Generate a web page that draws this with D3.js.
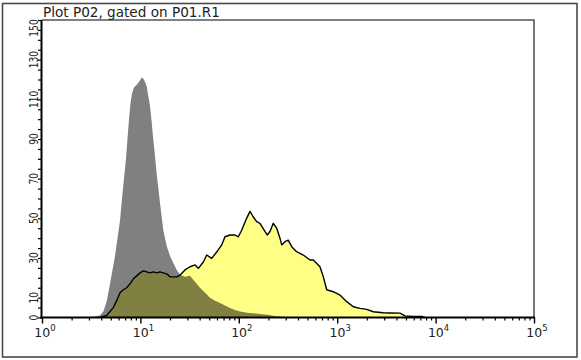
<!DOCTYPE html>
<html><head><meta charset="utf-8">
<script src="https://cdn.jsdelivr.net/npm/d3@7"></script>
<style>
body{margin:0;background:#fff;}
svg{display:block;}
</style></head>
<body>
<script>
// ---- data ----
const titleText = "Plot P02, gated on P01.R1";
const xDomain = [1, 1e5];
const yDomain = [0, 150];
const xTickDecades = [1, 10, 100, 1000, 10000, 100000];
const xTickExponents = ["0", "1", "2", "3", "4", "5"];
const yTickLabels = [0, 10, 30, 50, 70, 90, 110, 130, 150];

// control (gray) histogram: intensity, count
const grayX = [2.73, 3.46, 3.88, 4.20, 4.54, 4.91, 5.52, 6.21, 6.50, 6.81, 7.14, 7.39, 7.66, 7.93, 8.22, 8.61, 9.23, 9.91, 10.3, 10.7, 11.1, 11.6, 12.0, 12.5, 13.0, 13.5, 14.1, 14.6, 15.8, 17.1, 18.5, 20.0, 21.6, 23.4, 25.3, 28.4, 31.9, 34.5, 37.3, 40.3, 45.4, 51.0, 57.3, 64.4, 72.4, 81.4, 91.5, 103, 121, 139, 164, 194, 233, 295, 372];
const grayY = [0, 0.5, 1, 3, 8, 17, 31, 49, 60, 70, 80, 90, 100, 108, 113, 116, 117.5, 119.5, 121, 120.5, 119, 116.5, 112, 107, 99, 90, 81, 73, 58, 44, 36, 31, 27.5, 24, 21.5, 20.5, 21, 19, 17, 15, 12.5, 10, 8.5, 7.3, 6, 4.8, 3.8, 3, 2.4, 2.2, 1.8, 1.4, 0.8, 0.3, 0];

// stained (yellow) histogram: intensity, count
const yellowX = [3.88, 4.54, 4.91, 5.30, 5.74, 6.21, 6.70, 7.26, 7.84, 8.47, 9.17, 9.91, 10.7, 11.6, 12.5, 13.5, 14.6, 15.8, 17.1, 18.5, 20.0, 21.6, 23.4, 25.3, 28.4, 31.9, 35.9, 38.8, 43.6, 47.2, 53.0, 59.6, 67.0, 72.4, 81.4, 91.5, 98.9, 107, 120, 130, 140, 152, 164, 185, 195, 208, 224, 243, 262, 273, 295, 318, 345, 387, 452, 529, 572, 668, 722, 782, 912, 1067, 1250, 1459, 1706, 1995, 2328, 2944, 3443, 4348, 4887, 5888, 7228, 7800];
const yellowY = [0, 1, 3, 5, 8.5, 12.5, 14, 15, 17, 19.5, 21, 22.5, 23.5, 23, 22.5, 23, 22.5, 23, 22.5, 22, 20.5, 20.5, 20.5, 21.4, 24, 25.6, 26.5, 24.8, 28, 31.5, 29.8, 33, 36.6, 40.7, 41.6, 41.6, 40.7, 44, 50, 53.5, 50.8, 48.3, 47.5, 43.3, 41.6, 43.5, 47.5, 45, 40, 36.6, 38.2, 39, 35.7, 33.2, 31.5, 29, 29, 25.6, 20.6, 14, 13, 11.3, 8, 5.4, 4.6, 4.1, 2.9, 2.4, 2.3, 2.2, 0.8, 0.5, 0.5, 0];

// ---- layout ----
const W = 581, H = 360;
const L = 42, R = 534, T = 20, B = 317.5;

const svg = d3.select("body").append("svg").attr("width", W).attr("height", H);

// outer border
svg.append("rect").attr("x", 2.5).attr("y", 3.5).attr("width", 574.5).attr("height", 353.5)
  .attr("fill", "none").attr("stroke", "#4a4a4a").attr("stroke-width", 1.6);

const x = d3.scaleLog().domain(xDomain).range([L, R]);
const y = d3.scaleLinear().domain(yDomain).range([B, T]);

svg.append("defs").append("clipPath").attr("id", "clip")
  .append("rect").attr("x", L).attr("y", T).attr("width", R - L).attr("height", B - T);

const g = svg.append("g").attr("clip-path", "url(#clip)");
const gray = d3.zip(grayX, grayY);
const yellow = d3.zip(yellowX, yellowY);

const area = d3.area().x(d => x(d[0])).y0(y(0)).y1(d => y(d[1]));
const line = d3.line().x(d => x(d[0])).y(d => y(d[1]));

g.append("path").datum(gray).attr("d", area).attr("fill", "#808080");
g.append("path").datum(yellow).attr("d", area).attr("fill", "#ffff85")
  .style("mix-blend-mode", "multiply");
g.append("path").datum(yellow).attr("d", line).attr("fill", "none")
  .attr("stroke", "#000").attr("stroke-width", 1.4).attr("stroke-linejoin", "round");

// frame top/right
svg.append("path").attr("d", `M${L},${T}H${R}V${B}`).attr("fill", "none")
  .attr("stroke", "#555").attr("stroke-width", 1.6);

// ---- y axis ----
const yMinor = d3.range(yDomain[0], yDomain[1] + 1, 5);
const yAx = svg.append("g").attr("transform", `translate(${L},0)`)
  .call(d3.axisLeft(y).tickValues(yMinor).tickSize(4).tickFormat(""));
yAx.select(".domain").remove();
yAx.selectAll(".tick line").attr("stroke", "#000").attr("stroke-width", 1.2);
svg.append("line").attr("x1", L - 0.5).attr("x2", L - 0.5).attr("y1", T).attr("y2", B + 1)
  .attr("stroke", "#000").attr("stroke-width", 2);

yTickLabels.forEach(v => {
  let cy = y(v);
  cy = Math.max(cy, T + 8);
  svg.append("text")
    .attr("transform", `translate(37.5,${cy}) rotate(-90) scale(0.7,1)`)
    .attr("text-anchor", "middle")
    .attr("font-family", "DejaVu Sans, Verdana, sans-serif")
    .attr("font-size", 13).attr("fill", "#222")
    .text(v);
});

// ---- x axis ----
const xMinor = [];
xTickDecades.slice(0, -1).forEach(d => { for (let k = 2; k <= 9; k++) xMinor.push(d * k); });
const xAxMinor = svg.append("g").attr("transform", `translate(0,${B})`)
  .call(d3.axisBottom(x).tickValues(xMinor).tickSize(3).tickFormat(""));
xAxMinor.select(".domain").remove();
xAxMinor.selectAll(".tick line").attr("stroke", "#000").attr("stroke-width", 1.2);
const xAxMajor = svg.append("g").attr("transform", `translate(0,${B})`)
  .call(d3.axisBottom(x).tickValues(xTickDecades).tickSize(6).tickFormat(""));
xAxMajor.select(".domain").remove();
xAxMajor.selectAll(".tick line").attr("stroke", "#000").attr("stroke-width", 1.4);
svg.append("line").attr("x1", L - 1.5).attr("x2", R + 1).attr("y1", B).attr("y2", B)
  .attr("stroke", "#000").attr("stroke-width", 2);

xTickDecades.forEach((d, i) => {
  const t = svg.append("text").attr("x", x(d) + 3).attr("y", 337)
    .attr("text-anchor", "middle")
    .attr("font-family", "DejaVu Sans, Verdana, sans-serif")
    .attr("font-size", 12.5).attr("fill", "#222");
  t.append("tspan").text("10");
  t.append("tspan").attr("dy", -6).attr("font-size", 8.5).text(xTickExponents[i]);
});

// ---- title ----
svg.append("text").attr("x", 43).attr("y", 17)
  .attr("font-family", "DejaVu Sans, Verdana, sans-serif")
  .attr("font-size", 13.6).attr("fill", "#222")
  .text(titleText);
</script>
</body></html>
